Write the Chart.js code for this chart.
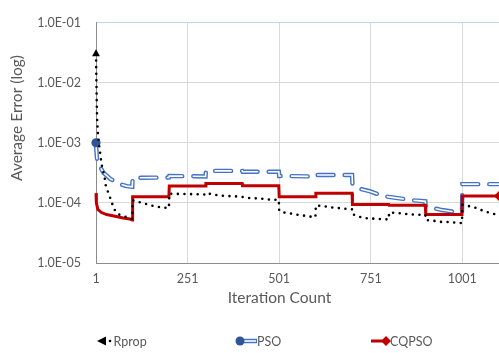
<!DOCTYPE html>
<html>
<head>
<meta charset="utf-8">
<script src="https://cdn.jsdelivr.net/npm/chart.js@4.4.1/dist/chart.umd.min.js"></script>
<style>
  html, body { margin: 0; padding: 0; background: #ffffff; overflow: hidden; }
  #wrap { position: relative; width: 499px; height: 353px; }
</style>
</head>
<body>
<div id="wrap"><canvas id="errChart" width="499" height="353"></canvas></div>
<script>
// Axis ticks
const xTicks = [1, 251, 501, 751, 1001];
const yTicks = [1e-5, 1e-4, 1e-3, 1e-2, 1e-1];

// Rprop: average error by iteration
const rpropIter = [1, 2, 3, 4, 6, 8, 10, 12, 15, 18, 24, 28, 35, 40, 46, 51, 60, 71, 85, 100,
  101, 126, 144, 160, 176, 190, 200,
  201, 250, 300,
  301, 340, 395, 422, 450, 477, 500,
  501, 518, 536, 554, 572, 586, 600,
  601, 620, 636, 654, 672, 690, 700,
  701, 718, 732, 750, 770, 800,
  801, 822, 840, 858, 877, 893, 900,
  901, 927, 945, 963, 982, 1000,
  1001, 1032, 1045, 1063, 1080, 1095, 1101];
const rpropErr = [3.0e-2, 1.2e-2, 5.0e-3, 2.5e-3, 1.5e-3, 1.1e-3, 8.5e-4, 7.0e-4, 5.0e-4, 3.8e-4, 2.8e-4, 1.9e-4, 1.45e-4, 1.2e-4, 9.4e-5, 7.8e-5, 6.6e-5, 6.1e-5, 5.8e-5, 5.4e-5,
  1.1e-4, 1.0e-4, 9.4e-5, 8.8e-5, 8.5e-5, 8.3e-5, 8.2e-5,
  1.42e-4, 1.4e-4, 1.38e-4,
  1.45e-4, 1.32e-4, 1.27e-4, 1.2e-4, 1.18e-4, 1.13e-4, 1.12e-4,
  7.4e-5, 6.8e-5, 6.6e-5, 6.3e-5, 6.1e-5, 5.9e-5, 5.8e-5,
  9.0e-5, 8.9e-5, 8.5e-5, 8.3e-5, 8.1e-5, 7.9e-5, 7.8e-5,
  6.5e-5, 5.9e-5, 5.6e-5, 5.5e-5, 5.4e-5, 5.3e-5,
  6.9e-5, 6.8e-5, 6.6e-5, 6.4e-5, 6.4e-5, 6.3e-5, 6.3e-5,
  5.2e-5, 5.0e-5, 4.8e-5, 4.8e-5, 4.7e-5, 4.6e-5,
  9.3e-5, 8.5e-5, 7.9e-5, 7.2e-5, 6.7e-5, 6.4e-5, 6.3e-5];

// PSO: average error by iteration
const psoIter = [1, 2, 4, 10, 21, 40, 72, 85, 100,
  101, 200, 201, 300, 301, 400, 401, 500, 501, 600, 601, 700,
  701, 720, 750, 780, 800, 870, 900,
  901, 945, 980, 1000,
  1001, 1101];
const psoErr = [1.0e-3, 7.5e-4, 5.2e-4, 4.2e-4, 3.2e-4, 2.5e-4, 2.0e-4, 1.9e-4, 1.85e-4,
  2.6e-4, 2.65e-4, 2.8e-4, 2.75e-4, 3.4e-4, 3.4e-4, 3.3e-4, 3.3e-4, 2.8e-4, 2.75e-4, 2.9e-4, 2.9e-4,
  2.05e-4, 1.72e-4, 1.55e-4, 1.32e-4, 1.26e-4, 1.1e-4, 1.06e-4,
  8.8e-5, 7.6e-5, 7.1e-5, 7.0e-5,
  2.05e-4, 2.05e-4];

// CQPSO: average error by iteration
const cqpsoIter = [1, 2, 6, 16, 30, 53, 75, 93, 100,
  101, 200, 201, 300, 301, 400, 401, 500, 501, 600,
  601, 700, 701, 800, 801, 900, 901, 1000, 1001, 1101];
const cqpsoErr = [1.45e-4, 1.0e-4, 7.8e-5, 6.9e-5, 6.4e-5, 6.0e-5, 5.6e-5, 5.4e-5, 5.2e-5,
  1.27e-4, 1.27e-4, 1.9e-4, 1.9e-4, 2.1e-4, 2.1e-4, 1.92e-4, 1.92e-4, 1.27e-4, 1.27e-4,
  1.45e-4, 1.45e-4, 9.4e-5, 9.4e-5, 9.1e-5, 9.1e-5, 6.4e-5, 6.4e-5, 1.3e-4, 1.3e-4];

const seriesNames = ['Rprop', 'PSO', 'CQPSO'];
const xTitle = 'Iteration Count';
const yTitle = 'Average Error (log)';

const toPoints = (xs, ys) => xs.map((x, i) => ({ x: x, y: ys[i] }));

const FONT = 'Lato, "Liberation Sans", sans-serif';
const TEXT = '#595959';
const GRID = '#D9D9D9';
const AXIS = '#8C8C8C';
const RED = '#C00000';
const BLUE = '#4472C4';
const BLUE_DARK = '#2F5597';

Chart.defaults.font.family = FONT;
Chart.defaults.color = TEXT;

const isFirst = ctx => ctx.dataIndex === 0;

// Axis titles and the legend row
const chartText = {
  id: 'chartText',
  afterDraw(chart) {
    const ctx = chart.ctx;
    ctx.save();
    ctx.fillStyle = TEXT;
    ctx.textBaseline = 'middle';

    // axis titles
    ctx.font = '15.5px ' + FONT;
    ctx.textAlign = 'center';
    ctx.fillText(xTitle, 279.5, 298);
    ctx.save();
    ctx.translate(17, 118);
    ctx.rotate(-Math.PI / 2);
    ctx.fillText(yTitle, 0, 0);
    ctx.restore();

    const y = 341;
    ctx.font = '12.5px ' + FONT;
    ctx.textAlign = 'left';

    // Rprop: left arrowhead and a dot
    ctx.fillStyle = '#000';
    ctx.beginPath();
    ctx.moveTo(97, y);
    ctx.lineTo(106, y - 4.5);
    ctx.lineTo(106, y + 4.5);
    ctx.closePath();
    ctx.fill();
    ctx.beginPath();
    ctx.arc(110, y, 1.3, 0, Math.PI * 2);
    ctx.fill();
    ctx.fillStyle = TEXT;
    ctx.fillText(seriesNames[0], 113.5, y + 0.5);

    // PSO: round head and double stroke
    ctx.lineCap = 'butt';
    ctx.strokeStyle = BLUE;
    ctx.lineWidth = 4.5;
    ctx.beginPath(); ctx.moveTo(242, y); ctx.lineTo(257, y); ctx.stroke();
    ctx.strokeStyle = '#fff';
    ctx.lineWidth = 1.6;
    ctx.beginPath(); ctx.moveTo(242, y); ctx.lineTo(256, y); ctx.stroke();
    ctx.fillStyle = BLUE_DARK;
    ctx.beginPath(); ctx.arc(240, y, 4.5, 0, Math.PI * 2); ctx.fill();
    ctx.fillStyle = TEXT;
    ctx.fillText(seriesNames[1], 257, y + 0.5);

    // CQPSO: line with a diamond end
    ctx.strokeStyle = RED;
    ctx.lineWidth = 3;
    ctx.beginPath(); ctx.moveTo(371, y); ctx.lineTo(385, y); ctx.stroke();
    ctx.fillStyle = RED;
    ctx.beginPath();
    ctx.moveTo(381, y); ctx.lineTo(386, y - 5); ctx.lineTo(391, y); ctx.lineTo(386, y + 5);
    ctx.closePath(); ctx.fill();
    ctx.fillStyle = TEXT;
    ctx.fillText(seriesNames[2], 390, y + 0.5);
    ctx.restore();
  }
};

const expLabel = v => {
  const e = Math.round(Math.log10(v));
  const s = Math.abs(e) < 10 ? '0' + Math.abs(e) : String(Math.abs(e));
  return '1.0E' + (e < 0 ? '-' : '+') + s;
};

new Chart(document.getElementById('errChart'), {
  type: 'line',
  data: {
    datasets: [
      {
        label: seriesNames[0],
        data: toPoints(rpropIter, rpropErr),
        borderColor: '#000',
        backgroundColor: '#000',
        borderWidth: 2.6,
        borderDash: [0, 6.6],
        borderCapStyle: 'round',
        pointStyle: 'triangle',
        pointRadius: ctx => isFirst(ctx) ? 4.6 : 0,
        pointBorderWidth: 0,
        pointBackgroundColor: '#000',
        clip: 10,
        order: 1
      },
      {
        label: seriesNames[1],
        data: toPoints(psoIter, psoErr),
        borderColor: BLUE,
        borderWidth: 4.4,
        borderDash: [16, 11],
        borderCapStyle: 'round',
        pointRadius: 0,
        clip: 10,
        order: 4
      },
      {
        label: seriesNames[1] + ' core',
        data: toPoints(psoIter, psoErr),
        borderColor: '#ffffff',
        borderWidth: 1.6,
        borderDash: [16, 11],
        borderCapStyle: 'round',
        pointStyle: 'circle',
        pointRadius: ctx => isFirst(ctx) ? 4.6 : 0,
        pointBorderWidth: 0,
        pointBackgroundColor: BLUE_DARK,
        clip: 10,
        order: 3
      },
      {
        label: seriesNames[2],
        data: toPoints(cqpsoIter, cqpsoErr),
        borderColor: RED,
        borderWidth: 3,
        borderJoinStyle: 'miter',
        pointStyle: 'rectRot',
        pointRadius: ctx => ctx.dataIndex === cqpsoIter.length - 1 ? 5 : 0,
        pointBorderWidth: 0,
        pointBackgroundColor: RED,
        clip: 10,
        order: 2
      }
    ]
  },
  options: {
    responsive: false,
    animation: false,
    devicePixelRatio: 1,
    parsing: false,
    normalized: true,
    layout: { autoPadding: false, padding: { top: 10, right: 0, bottom: 42, left: 0 } },
    plugins: {
      legend: { display: false },
      tooltip: { enabled: false }
    },
    elements: { line: { tension: 0, fill: false } },
    scales: {
      x: {
        type: 'linear',
        min: 1,
        max: 1101,
        afterBuildTicks: s => { s.ticks = xTicks.map(v => ({ value: v })); },
        afterFit: s => { s.height = 48; },
        ticks: {
          autoSkip: false,
          maxRotation: 0,
          padding: 8,
          color: TEXT,
          font: { size: 12.5 },
          callback: v => String(v)
        },
        grid: {
          drawTicks: false,
          color: ctx => (ctx.tick && ctx.tick.value === 1) ? AXIS : GRID,
          lineWidth: 1
        },
        border: { display: true, color: AXIS, width: 1 },
        title: { display: false }
      },
      y: {
        type: 'logarithmic',
        min: 1e-5,
        max: 1e-1,
        afterBuildTicks: s => { s.ticks = yTicks.map(v => ({ value: v, major: true })); },
        afterFit: s => { s.width = 96; },
        ticks: {
          autoSkip: false,
          padding: 15,
          color: TEXT,
          font: { size: 12.5 },
          callback: v => expLabel(v)
        },
        grid: {
          drawTicks: false,
          lineWidth: 1,
          color: ctx => {
            if (!ctx.tick) return GRID;
            const e = Math.round(Math.log10(ctx.tick.value));
            if (e === -1) return '#BDD7EE';
            if (e === -5) return AXIS;
            return GRID;
          }
        },
        border: { display: true, color: AXIS, width: 1 },
        title: { display: false }
      }
    }
  },
  plugins: [chartText]
});
</script>
</body>
</html>
